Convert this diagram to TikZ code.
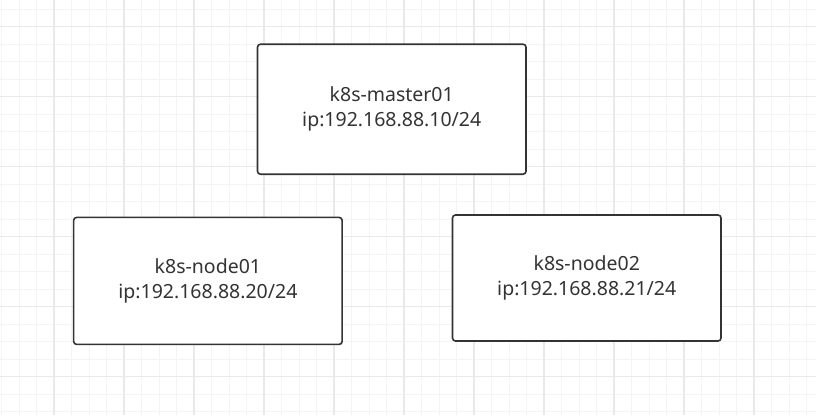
\documentclass[tikz,border=0pt]{standalone}
\usepackage{fontspec}
\setmainfont{Noto Sans}
\definecolor{boxline}{HTML}{333333}
\definecolor{gridminor}{HTML}{F4F4F4}
\definecolor{gridmajor}{HTML}{E9E9E9}
\tikzset{
    hostbox/.style={draw=boxline, line width=1.6pt, rounded corners=3pt, fill=white,
        minimum width=268.5pt, inner sep=0pt, align=center, text=boxline,
        font=\fontsize{19.5}{25}\selectfont},
}

\begin{document}
\begin{tikzpicture}[x=1pt,y=-1pt]
    % background and grid
    \fill[white] (0,0) rectangle (816,415);
    \useasboundingbox (0,0) rectangle (816,415);
    \foreach \gx in {0,...,46}
        \draw[gridminor, line width=1pt] (1.5+17.5*\gx,0) -- (1.5+17.5*\gx,415);
    \foreach \gy in {0,...,23}
        \draw[gridminor, line width=1pt] (0,9.2+17.5*\gy) -- (816,9.2+17.5*\gy);
    \foreach \gx in {0,...,11}
        \draw[gridmajor, line width=1.2pt] (54+70*\gx,0) -- (54+70*\gx,415);
    \foreach \gy in {0,...,5}
        \draw[gridmajor, line width=1.2pt] (0,26.7+70*\gy) -- (816,26.7+70*\gy);

    % hosts
    \node[hostbox, minimum height=130pt] (master) at (391.75,109.2) {k8s-master01\\ip:192.168.88.10/24};
    \node[hostbox, minimum height=127pt] (node01) at (207.9,280.9) {k8s-node01\\ip:192.168.88.20/24};
    \node[hostbox, minimum height=126pt] (node02) at (586.75,278) {k8s-node02\\ip:192.168.88.21/24};
\end{tikzpicture}
\end{document}
